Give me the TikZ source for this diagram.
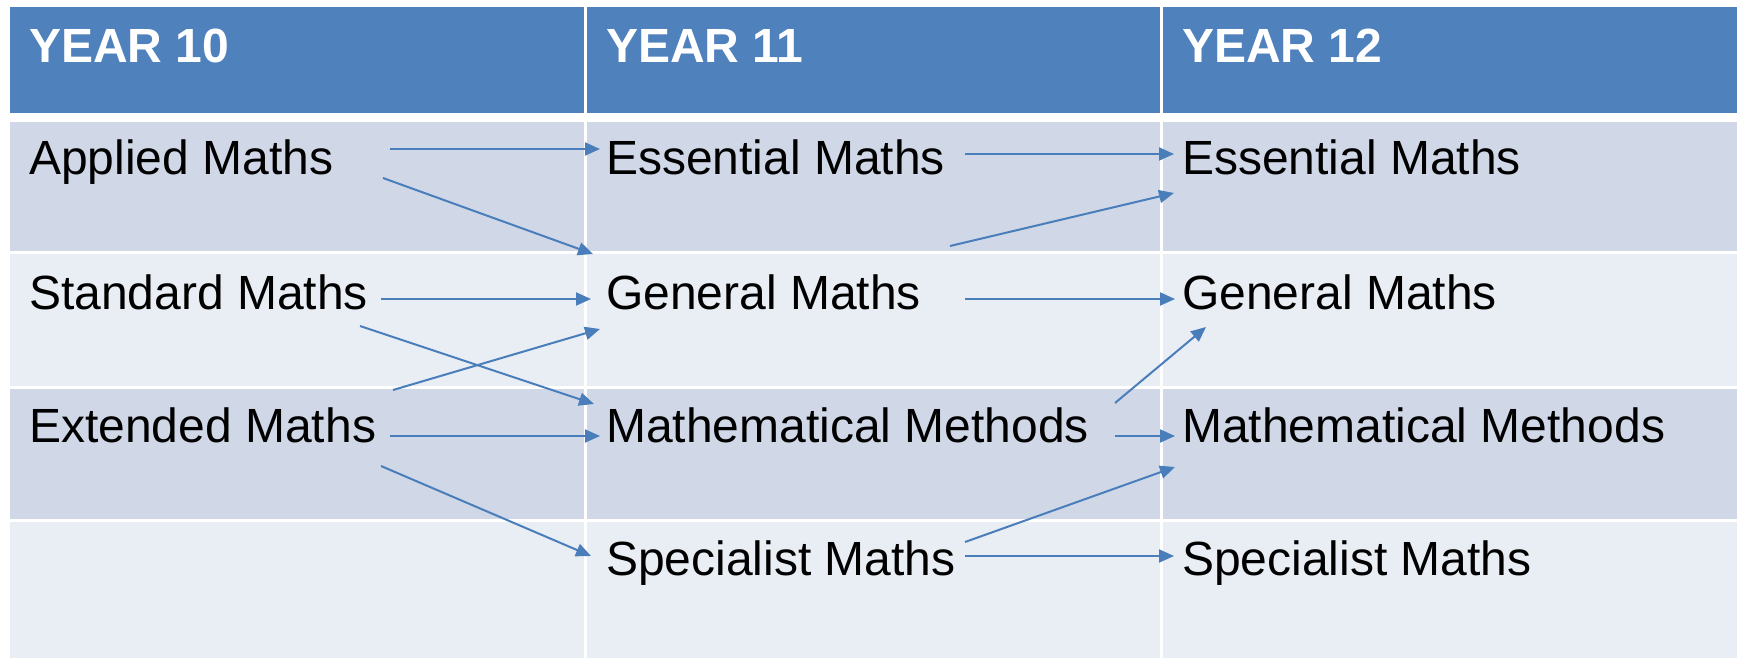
\documentclass[tikz,border=0pt]{standalone}
\usepackage{fontspec}
\setmainfont{Liberation Sans}
\usetikzlibrary{arrows.meta}
\definecolor{hdr}{HTML}{4F81BD}
\definecolor{rowdark}{HTML}{D0D8E8}
\definecolor{rowlight}{HTML}{E9EDF4}
\definecolor{arr}{HTML}{4A7EBB}
\tikzset{
  hdrtext/.style={anchor=base west,inner sep=0pt,text=white,font=\fontsize{48}{58}\selectfont\bfseries},
  celltext/.style={anchor=base west,inner sep=0pt,text=black,font=\fontsize{48}{58}\selectfont},
  flow/.style={draw=arr,line width=2pt,-{Triangle[length=15pt,width=13pt]}}
}
\begin{document}
\begin{tikzpicture}[x=1pt,y=-1pt]
\useasboundingbox (0,0) rectangle (1737,658);
\fill[white] (0,0) rectangle (1737,658);
% header
\foreach \xa/\xb in {10/584, 587/1160, 1163/1737}{
  \fill[hdr] (\xa,7) rectangle (\xb,113);
  \fill[rowdark] (\xa,122) rectangle (\xb,251);
  \fill[rowlight] (\xa,253.5) rectangle (\xb,386);
  \fill[rowdark] (\xa,388.5) rectangle (\xb,519);
  \fill[rowlight] (\xa,521.5) rectangle (\xb,658);
}
% header texts
\node[hdrtext] (h10) at (29,63) {YEAR 10};
\node[hdrtext] (h11) at (606,63) {YEAR 11};
\node[hdrtext] (h12) at (1182,63) {YEAR 12};
% year 10
\node[celltext] (appl) at (29,174) {Applied Maths};
\node[celltext] (stan) at (29,309) {Standard Maths};
\node[celltext] (exte) at (29,442) {Extended Maths};
% year 11
\node[celltext] (ess11) at (606,174) {Essential Maths};
\node[celltext] (gen11) at (606,309) {General Maths};
\node[celltext] (met11) at (606,442) {Mathematical Methods};
\node[celltext] (spe11) at (606,575) {Specialist Maths};
% year 12
\node[celltext] (ess12) at (1182,174) {Essential Maths};
\node[celltext] (gen12) at (1182,309) {General Maths};
\node[celltext] (met12) at (1182,442) {Mathematical Methods};
\node[celltext] (spe12) at (1182,575) {Specialist Maths};
% connector ends
\coordinate (a1) at (390,149);   \coordinate (e11in) at (600,149);
\coordinate (a2) at (383,178);   \coordinate (g11inA) at (593,254);
\coordinate (s1) at (381,299);   \coordinate (g11in) at (591,299);
\coordinate (s2) at (360,326);   \coordinate (m11inS) at (594,404);
\coordinate (x1) at (393,390);   \coordinate (g11inX) at (600,329);
\coordinate (x2) at (390,436);   \coordinate (m11in) at (600,436);
\coordinate (x3) at (381,466);   \coordinate (sp11in) at (591,556);
\coordinate (e11out) at (965,154); \coordinate (e12in) at (1174,154);
\coordinate (g11outE) at (950,246); \coordinate (e12inG) at (1174,193);
\coordinate (g11out) at (965,299); \coordinate (g12in) at (1175,299);
\coordinate (m11outG) at (1115,403); \coordinate (g12inM) at (1206,327);
\coordinate (m11out) at (1115,436); \coordinate (m12in) at (1175,436);
\coordinate (sp11outM) at (965,542); \coordinate (m12inS) at (1175,467);
\coordinate (sp11out) at (965,556); \coordinate (sp12in) at (1174,556);
% connectors
\draw[flow] (a1) -- (e11in);
\draw[flow] (a2) -- (g11inA);
\draw[flow] (s1) -- (g11in);
\draw[flow] (s2) -- (m11inS);
\draw[flow] (x1) -- (g11inX);
\draw[flow] (x2) -- (m11in);
\draw[flow] (x3) -- (sp11in);
\draw[flow] (e11out) -- (e12in);
\draw[flow] (g11outE) -- (e12inG);
\draw[flow] (g11out) -- (g12in);
\draw[flow] (m11outG) -- (g12inM);
\draw[flow] (m11out) -- (m12in);
\draw[flow] (sp11outM) -- (m12inS);
\draw[flow] (sp11out) -- (sp12in);
\end{tikzpicture}
\end{document}
